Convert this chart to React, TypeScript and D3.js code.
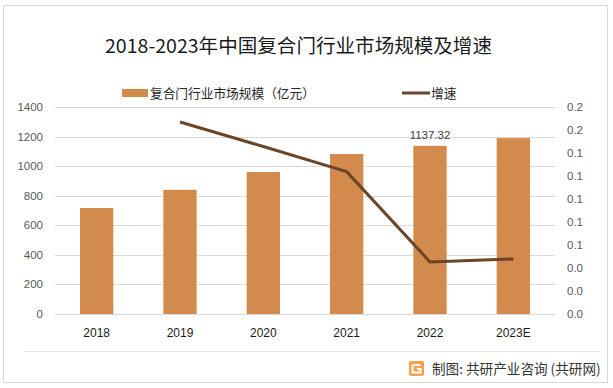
import React from "react";
import * as d3 from "d3";

const categories = ["2018", "2019", "2020", "2021", "2022", "2023E"];
const marketSize = [717, 840, 960, 1082, 1137.32, 1190];
const growth: (number | null)[] = [null, 0.167, 0.1456, 0.1238, 0.0453, 0.0479];
const leftTicks = [0, 200, 400, 600, 800, 1000, 1200, 1400];
const rightTicks = [0, 0.02, 0.04, 0.06, 0.08, 0.1, 0.12, 0.14, 0.16, 0.18];
const title = "2018-2023年中国复合门行业市场规模及增速";
const barLegend = "复合门行业市场规模（亿元）";
const lineLegend = "增速";
const source = "制图: 共研产业咨询 (共研网)";
const labeledIndex = 4;

const W = 613;
const H = 388;
const plot = { left: 55, right: 555, top: 107, bottom: 314 };
const CJK = "'Noto Sans CJK SC', 'Noto Sans', sans-serif";
const NUM = "'Liberation Sans', Arial, sans-serif";
const BAR = "#D38B4D";
const LINE = "#6A4528";

export default function App() {
  const x = d3
    .scaleBand<string>()
    .domain(categories)
    .range([plot.left, plot.right])
    .paddingInner(0.6)
    .paddingOuter(0.3);
  const yL = d3.scaleLinear().domain([0, 1400]).range([plot.bottom, plot.top]);
  const yR = d3.scaleLinear().domain([0, 0.18]).range([plot.bottom, plot.top]);
  const pts = categories
    .map((c, i) => ({ c, v: growth[i] }))
    .filter((d) => d.v !== null) as { c: string; v: number }[];
  const line = d3
    .line<{ c: string; v: number }>()
    .x((d) => (x(d.c) as number) + x.bandwidth() / 2)
    .y((d) => yR(d.v));
  const fmtR = (v: number) => (Math.round(v * 10 + 1e-9) / 10).toFixed(1);

  return (
    <svg
      width={W}
      height={H}
      style={{ position: "absolute", left: 0, top: 0, background: "#fff" }}
    >
      <rect x={3.5} y={5.5} width={604} height={377} fill="#fff" stroke="#d9d9d9" strokeWidth={1} />
      <text
        x={105}
        y={53}
        fontFamily={CJK}
        fontSize={19}
        fill="#1a1a1a"
        textLength={387}
        lengthAdjust="spacingAndGlyphs"
      >
        {title}
      </text>
      {/* legend */}
      <rect x={122} y={89} width={26} height={8} fill={BAR} />
      <text x={150} y={98} fontFamily={CJK} fontSize={12.7} fill="#262626">
        {barLegend}
      </text>
      <line x1={402} y1={93} x2={430} y2={93} stroke={LINE} strokeWidth={3} />
      <text x={431} y={98} fontFamily={CJK} fontSize={12.7} fill="#262626">
        {lineLegend}
      </text>
      {/* gridlines */}
      {leftTicks.map((t) => (
        <line
          key={"g" + t}
          x1={plot.left}
          x2={plot.right}
          y1={Math.round(yL(t)) + 0.5}
          y2={Math.round(yL(t)) + 0.5}
          stroke="#d9d9d9"
          strokeWidth={1}
        />
      ))}
      {leftTicks.map((t) => (
        <text
          key={"l" + t}
          x={43}
          y={yL(t) + 4}
          textAnchor="end"
          fontFamily={NUM}
          fontSize={11.5}
          fill="#595959"
        >
          {t}
        </text>
      ))}
      {rightTicks.map((t) => (
        <text
          key={"r" + t}
          x={567}
          y={yR(t) + 4}
          fontFamily={NUM}
          fontSize={11.5}
          fill="#595959"
        >
          {fmtR(t)}
        </text>
      ))}
      {/* bars */}
      {categories.map((c, i) => (
        <rect
          key={"b" + c}
          x={x(c) as number}
          y={yL(marketSize[i])}
          width={x.bandwidth()}
          height={yL(0) - yL(marketSize[i])}
          fill={BAR}
        />
      ))}
      <text
        x={(x(categories[labeledIndex]) as number) + x.bandwidth() / 2}
        y={yL(marketSize[labeledIndex]) - 7}
        textAnchor="middle"
        fontFamily={NUM}
        fontSize={11.5}
        fill="#404040"
      >
        {marketSize[labeledIndex].toFixed(2)}
      </text>
      {/* x axis */}
      <line x1={plot.left} x2={plot.right} y1={plot.bottom + 0.5} y2={plot.bottom + 0.5} stroke="#d9d9d9" />
      {categories.map((c) => (
        <text
          key={"x" + c}
          x={(x(c) as number) + x.bandwidth() / 2}
          y={337}
          textAnchor="middle"
          fontFamily={NUM}
          fontSize={12}
          fill="#1a1a1a"
        >
          {c}
        </text>
      ))}
      {/* line */}
      <path d={line(pts) || ""} fill="none" stroke={LINE} strokeWidth={3} strokeLinejoin="round" />
      {/* footer */}
      <line x1={24} x2={600} y1={351.5} y2={351.5} stroke="#e6e6e6" />
      <g transform="translate(409,361)">
        <rect x={0} y={0} width={15} height={15} rx={2} fill="#F5A14A" />
        <path d="M3.5 4 H11.5 M3.5 4 V11.5 H11.5 V8 H8" stroke="#fff" strokeWidth={2} fill="none" />
      </g>
      <text x={432} y={374} fontFamily={CJK} fontSize={13.6} fill="#333">
        {source}
      </text>
    </svg>
  );
}
